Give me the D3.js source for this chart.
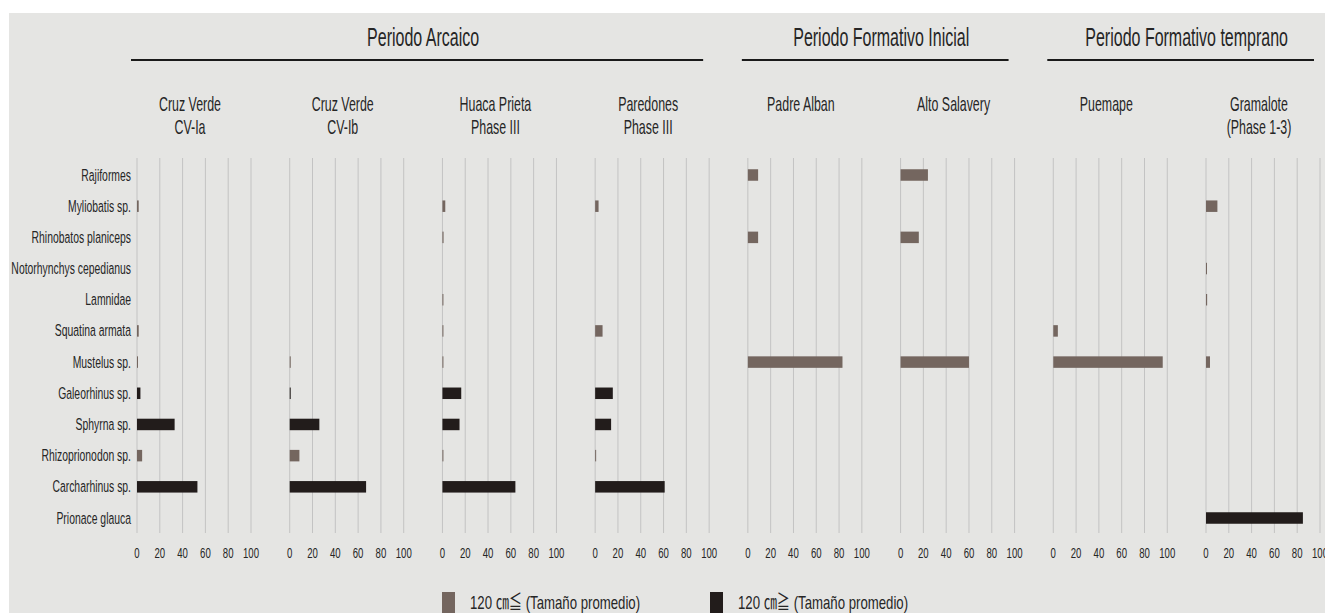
<!DOCTYPE html>
<html>
<head>
<meta charset="utf-8">
<script src="https://cdn.jsdelivr.net/npm/d3@7"></script>
<style>
  body { margin: 0; background: #fff; }
  text { font-family: "Liberation Sans", Arial, "Noto Sans CJK JP", sans-serif; fill: #262626; }
</style>
</head>
<body>
<div id="chart"></div>
<script>
const width = 1325, height = 613;

// --- data ---
const categories = ["Rajiformes", "Myliobatis sp.", "Rhinobatos planiceps", "Notorhynchys cepedianus",
  "Lamnidae", "Squatina armata", "Mustelus sp.", "Galeorhinus sp.", "Sphyrna sp.",
  "Rhizoprionodon sp.", "Carcharhinus sp.", "Prionace glauca"];
// size class per category: "s" = 120cm≦ (gray), "l" = 120cm≧ (black)
const sizeClass = ["s", "s", "s", "s", "s", "s", "s", "l", "l", "s", "l", "l"];

const siteLabels = [["Cruz Verde", "CV-Ia"], ["Cruz Verde", "CV-Ib"], ["Huaca Prieta", "Phase III"],
  ["Paredones", "Phase III"], ["Padre Alban"], ["Alto Salavery"], ["Puemape"], ["Gramalote", "(Phase 1-3)"]];

const cvIa      = [0, 1.5, 0, 0, 0, 1.5, 0.5, 3, 33, 4.5, 53, 0];
const cvIb      = [0, 0, 0, 0, 0, 0, 0.3, 0.3, 26, 8.5, 67, 0];
const huaca     = [0, 2.5, 1, 0, 0.5, 0.5, 0.5, 16.5, 15, 0.5, 64, 0];
const paredones = [0, 3, 0, 0, 0, 6.5, 0, 15.5, 14, 0.5, 61, 0];
const padre     = [9, 0, 9, 0, 0, 0, 83, 0, 0, 0, 0, 0];
const alto      = [24, 0, 16, 0, 0, 0, 60, 0, 0, 0, 0, 0];
const puemape   = [0, 0, 0, 0, 0, 4, 96, 0, 0, 0, 0, 0];
const gramalote = [0, 10, 0, 0.3, 1, 0, 3.5, 0, 0, 0, 0, 85];
const siteValues = [cvIa, cvIb, huaca, paredones, padre, alto, puemape, gramalote];

const periodNames = ["Periodo Arcaico", "Periodo Formativo Inicial", "Periodo Formativo temprano"];
const periodFirst = [0, 4, 6];
const periodLast = [3, 5, 7];

const xTicks = [0, 20, 40, 60, 80, 100];
const legendLabels = ["120 \u339D\u2266 (Tamaño promedio)", "120 \u339D\u2267 (Tamaño promedio)"];

const colors = {s: "#74665f", l: "#221c1b"};
const SX = 0.8; // the picture uses a condensed face

// --- layout ---
const svg = d3.select("#chart").append("svg")
  .attr("width", width)
  .attr("height", height);

svg.append("rect")
  .attr("x", 9).attr("y", 13)
  .attr("width", width - 9).attr("height", height - 13)
  .attr("fill", "#e5e5e3");

const panelX = d3.scalePoint()
  .domain(d3.range(siteValues.length))
  .range([137, 1206]);

const x = d3.scaleLinear().domain([0, 100]).range([0, 114]);

const y = d3.scalePoint()
  .domain(categories)
  .range([175, 518]);

const gridTop = 158, gridBottom = 533;
const barH = 11.5;

function putText(sel, tx, ty, sy) {
  return sel.attr("transform", "translate(" + tx + "," + ty + ") scale(" + SX + "," + (sy || 1.25) + ")");
}

// category labels
svg.append("g").selectAll("text")
  .data(categories)
  .join("text")
  .attr("text-anchor", "end")
  .attr("dy", "0.35em")
  .style("font-size", "13px")
  .text(d => d)
  .each(function(d) { putText(d3.select(this), 131, y(d), 1.22); });

// panels
siteValues.forEach((vals, i) => {
  const g = svg.append("g")
    .attr("transform", "translate(" + panelX(i) + ",0)");

  g.selectAll("line.grid")
    .data(xTicks)
    .join("line")
    .attr("class", "grid")
    .attr("x1", d => x(d)).attr("x2", d => x(d))
    .attr("y1", gridTop).attr("y2", gridBottom)
    .attr("stroke", "#c3c3c3")
    .attr("stroke-width", 1);

  g.selectAll("text.tick")
    .data(xTicks)
    .join("text")
    .attr("class", "tick")
    .attr("text-anchor", "middle")
    .style("font-size", "12px")
    .text(d => d)
    .each(function(d) { putText(d3.select(this), x(d), 558); });

  g.selectAll("rect.bar")
    .data(vals.map((v, k) => ({cat: categories[k], v: v, cls: sizeClass[k]})).filter(d => d.v > 0))
    .join("rect")
    .attr("class", "bar")
    .attr("x", 0)
    .attr("y", d => y(d.cat) - barH / 2)
    .attr("width", d => Math.max(1, x(d.v)))
    .attr("height", barH)
    .attr("fill", d => colors[d.cls]);

  const lab = siteLabels[i];
  g.selectAll("text.site")
    .data(lab)
    .join("text")
    .attr("class", "site")
    .attr("text-anchor", "middle")
    .style("font-size", "15.5px")
    .text(d => d)
    .each(function(d, j) { putText(d3.select(this), x(50) - 4, 111 + j * 23, 1.3); });
});

// period headers
periodNames.forEach((name, i) => {
  const x0 = panelX(periodFirst[i]) - 6;
  const x1 = panelX(periodLast[i]) + x(100) - 6;
  svg.append("line")
    .attr("x1", x0).attr("x2", x1)
    .attr("y1", 60).attr("y2", 60)
    .attr("stroke", "#1a1a1a")
    .attr("stroke-width", 2);
  putText(svg.append("text")
    .attr("text-anchor", "middle")
    .style("font-size", "20px")
    .text(name), (x0 + x1) / 2 + 6, 46, 1.3);
});

// legend
const legendX = [442, 710];
legendLabels.forEach((t, i) => {
  svg.append("rect")
    .attr("x", legendX[i]).attr("y", 592)
    .attr("width", 13).attr("height", 21)
    .attr("fill", i === 0 ? colors.s : colors.l);
  putText(svg.append("text")
    .style("font-size", "16.5px")
    .text(t), legendX[i] + 28, 609, 1.15);
});
</script>
</body>
</html>
